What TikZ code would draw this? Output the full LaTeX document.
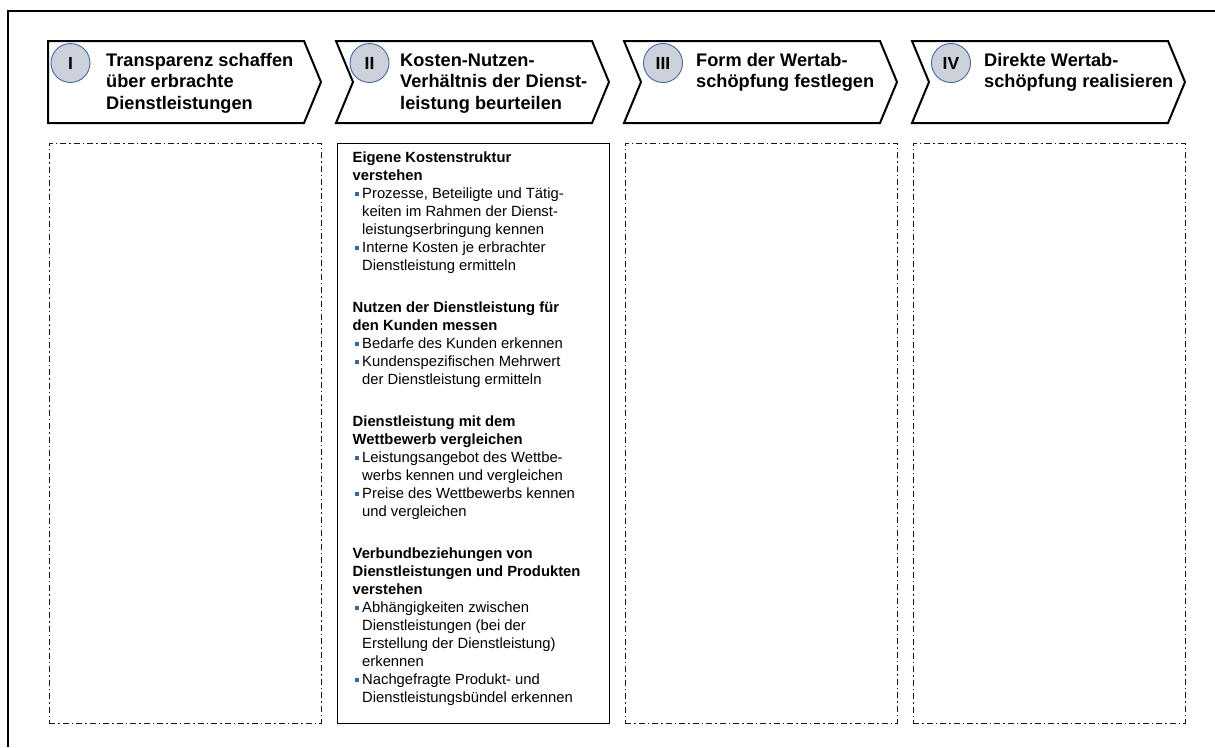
\documentclass[tikz,border=0pt]{standalone}
\usepackage{fontspec}
\setmainfont{Liberation Sans}
\definecolor{circfill}{RGB}{205,209,220}
\definecolor{circline}{RGB}{65,104,160}
\definecolor{bulblue}{RGB}{60,100,160}
\newcommand{\bul}{\makebox[9.5pt][l]{\hspace{2pt}\textcolor{bulblue}{\rule[2pt]{4pt}{4pt}}}}
\newcommand{\ind}{\hspace*{9.5pt}}
\tikzset{
  chev/.style={draw=black, line width=2pt, line join=miter, fill=white},
  numcirc/.style={circle, minimum size=39pt, inner sep=0pt, fill=circfill, draw=circline, line width=0.9pt, font=\bfseries\fontsize{17.5}{17.5}\selectfont},
  headtxt/.style={anchor=base west, inner sep=0pt, align=left, font=\bfseries\fontsize{18.2}{21.5}\selectfont},
  dashbox/.style={draw=black!90, line width=0.9pt, dash pattern=on 6pt off 3pt on 1.5pt off 3pt, anchor=north west, inner sep=0pt},
  solidbox/.style={draw=black, line width=1.3pt, anchor=north west, inner sep=0pt},
  bodytxt/.style={anchor=base west, inner sep=0pt, align=left, font=\fontsize{14.8}{18}\selectfont}
}
\begin{document}
\begin{tikzpicture}[x=1pt,y=-1pt]
\useasboundingbox (0,0) rectangle (1215,747);
\fill[white] (0,0) rectangle (1215,747);
% outer frame
\draw[line width=2pt] (8,747) -- (8,11) -- (1215,11);
% chevrons
\draw[chev] (48,41) -- (304,41) -- (321,82) -- (304,123) -- (48,123) -- cycle;
\draw[chev] (336,41) -- (592,41) -- (609,82) -- (592,123) -- (336,123) -- (353,82) -- cycle;
\draw[chev] (624,41) -- (880,41) -- (897,82) -- (880,123) -- (624,123) -- (641,82) -- cycle;
\draw[chev] (912,41) -- (1168,41) -- (1185,82) -- (1168,123) -- (912,123) -- (929,82) -- cycle;
% numbers
\node[numcirc] (n1) at (70.5,63) {I};
\node[numcirc] (n2) at (369.5,63) {II};
\node[numcirc] (n3) at (663,63) {III};
\node[numcirc] (n4) at (951,63) {IV};
% headings (anchored at the baseline of the last line)
\node[headtxt] (h1) at (106,109) {Transparenz schaffen\\über erbrachte\\Dienstleistungen};
\node[headtxt] (h2) at (400,109) {Kosten-Nutzen-\\Verhältnis der Dienst-\\leistung beurteilen};
\node[headtxt] (h3) at (696,87.5) {Form der Wertab-\\schöpfung festlegen};
\node[headtxt] (h4) at (984,87.5) {Direkte Wertab-\\schöpfung realisieren};
% boxes
\node[dashbox, minimum width=272pt, minimum height=580pt] (b1) at (49,143) {};
\node[solidbox, minimum width=272pt, minimum height=580pt] (b2) at (337,143) {};
\node[dashbox, minimum width=272pt, minimum height=580pt] (b3) at (625,143) {};
\node[dashbox, minimum width=272pt, minimum height=580pt] (b4) at (913,143) {};
% content (anchored at the baseline of the last line)
\node[bodytxt] (c2) at (352.5,702) {%
\textbf{Eigene Kostenstruktur}\\
\textbf{verstehen}\\
\bul Prozesse, Beteiligte und Tätig-\\
\ind keiten im Rahmen der Dienst-\\
\ind leistungserbringung kennen\\
\bul Interne Kosten je erbrachter\\
\ind Dienstleistung ermitteln\\[24pt]
\textbf{Nutzen der Dienstleistung für}\\
\textbf{den Kunden messen}\\
\bul Bedarfe des Kunden erkennen\\
\bul Kundenspezifischen Mehrwert\\
\ind der Dienstleistung ermitteln\\[24pt]
\textbf{Dienstleistung mit dem}\\
\textbf{Wettbewerb vergleichen}\\
\bul Leistungsangebot des Wettbe-\\
\ind werbs kennen und vergleichen\\
\bul Preise des Wettbewerbs kennen\\
\ind und vergleichen\\[24pt]
\textbf{Verbundbeziehungen von}\\
\textbf{Dienstleistungen und Produkten}\\
\textbf{verstehen}\\
\bul Abhängigkeiten zwischen\\
\ind Dienstleistungen (bei der\\
\ind Erstellung der Dienstleistung)\\
\ind erkennen\\
\bul Nachgefragte Produkt- und\\
\ind Dienstleistungsbündel erkennen};
\end{tikzpicture}
\end{document}
